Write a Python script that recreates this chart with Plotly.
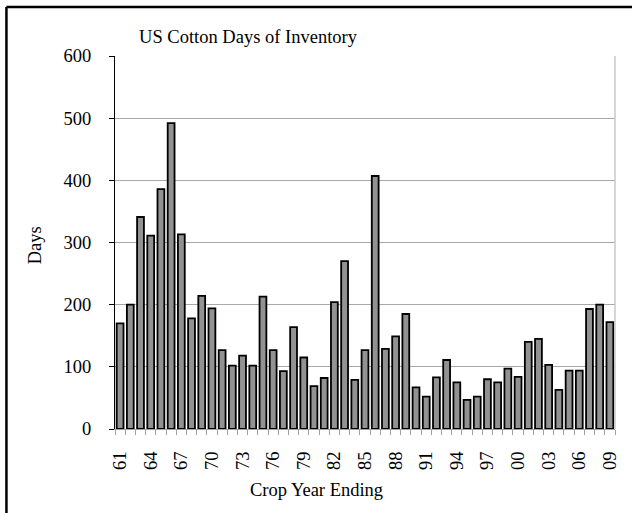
import plotly.graph_objects as go

years = ["61","62","63","64","65","66","67","68","69","70","71","72","73","74","75","76","77","78","79","80",
         "81","82","83","84","85","86","87","88","89","90","91","92","93","94","95","96","97","98","99","00",
         "01","02","03","04","05","06","07","08","09"]
days = [170,200,341,311,386,492,313,178,214,194,127,102,118,102,213,127,93,164,115,69,
        82,204,270,79,127,407,129,149,185,67,52,83,111,75,47,52,80,75,97,84,
        140,145,103,63,94,94,193,200,172]
tick_labels = [y if i % 3 == 0 else "" for i, y in enumerate(years)]

FONT = "Liberation Serif, Times New Roman, serif"

fig = go.Figure(go.Bar(
    x=years, y=days,
    marker=dict(color="#929292", line=dict(color="black", width=1.8)),
    hoverinfo="x+y",
))

fig.update_layout(
    width=632, height=513,
    margin=dict(l=115, r=15, t=56, b=84),
    paper_bgcolor="white", plot_bgcolor="white",
    font=dict(family=FONT, size=18.5, color="black"),
    bargap=0.33,
    showlegend=False,
    title=dict(text="US Cotton Days of Inventory", x=248/632, xanchor="center",
               y=1-37/513, yanchor="middle", font=dict(family=FONT, size=18.5)),
)

fig.update_xaxes(
    type="category", categoryorder="array", categoryarray=years,
    tickmode="array", tickvals=years, ticktext=tick_labels,
    tickson="boundaries", ticks="outside", ticklen=5, tickcolor="#a0a0a0",
    tickangle=-90, ticklabelstandoff=14,
    showline=True, linecolor="#a0a0a0", linewidth=1,
    showgrid=False, zeroline=False,
)
fig.update_yaxes(
    range=[0, 600], dtick=100, tick0=0,
    showline=True, linecolor="black", linewidth=1,
    ticks="outside", ticklen=5, tickcolor="black", ticklabelstandoff=14,
    showgrid=True, gridcolor="#a8a8a8", gridwidth=1, zeroline=False,
)

fig.add_annotation(text="Days", textangle=-90, x=(35-115)/502, y=(429-245)/373,
                   xref="paper", yref="paper", showarrow=False,
                   xanchor="center", yanchor="middle", font=dict(size=18.5))
fig.add_annotation(text="Crop Year Ending", x=(317-115)/502, y=(429-490)/373,
                   xref="paper", yref="paper", showarrow=False,
                   xanchor="center", yanchor="middle", font=dict(size=18.5))

# plot-area right edge and outer frame
fig.add_shape(type="line", xref="paper", yref="paper", x0=1, x1=1, y0=0, y1=1,
              line=dict(color="#c8c8c8", width=1.5))
fig.add_shape(type="line", xref="paper", yref="paper", x0=(6-115)/502, x1=(640-115)/502,
              y0=(429-7)/373, y1=(429-7)/373, line=dict(color="black", width=2.5))
fig.add_shape(type="line", xref="paper", yref="paper", x0=(6-115)/502, x1=(6-115)/502,
              y0=(429-7)/373, y1=(429-520)/373, line=dict(color="black", width=2.5))

fig.write_html("out.html", config={"displayModeBar": False},
               post_script="document.body.style.margin='0';document.body.style.overflow='hidden';")
